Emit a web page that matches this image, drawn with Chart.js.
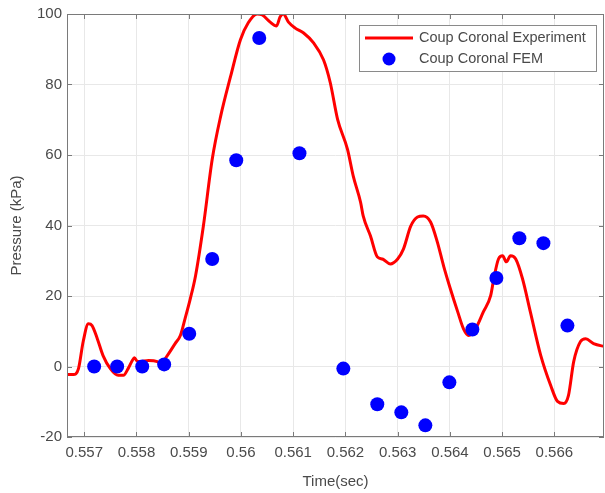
<!DOCTYPE html>
<html>
<head>
<meta charset="utf-8">
<script src="https://cdn.jsdelivr.net/npm/chart.js@4/dist/chart.umd.min.js"></script>
<style>
  html, body { margin: 0; padding: 0; background: #fff; }
  #wrap { width: 605px; height: 493px; }
</style>
</head>
<body>
<div id="wrap"><canvas id="pressureChart" width="605" height="493"></canvas></div>
<script>
// experiment trace (time in sec, pressure in kPa)
const expTime = [0.55667, 0.55679, 0.55689, 0.55698, 0.55708, 0.55715, 0.55725, 0.55736, 0.55750, 0.55765,
    0.55775, 0.55784, 0.55792, 0.55796, 0.55802, 0.55807, 0.55823, 0.55840, 0.55846, 0.55859,
    0.55874, 0.55884, 0.55893, 0.55903, 0.55913, 0.55928, 0.55945, 0.55961, 0.55980, 0.55999,
    0.56014, 0.56031, 0.56041, 0.56056, 0.56068, 0.56075, 0.56081, 0.56091, 0.56104, 0.56120,
    0.56139, 0.56158, 0.56171, 0.56185, 0.56204, 0.56215, 0.56229, 0.56234, 0.56248, 0.56261,
    0.56271, 0.56286, 0.56300, 0.56311, 0.56325, 0.56338, 0.56349, 0.56363, 0.56376, 0.56388,
    0.56401, 0.56415, 0.56426, 0.56436, 0.56449, 0.56464, 0.56478, 0.56484, 0.56493, 0.56501,
    0.56508, 0.56516, 0.56526, 0.56539, 0.56554, 0.56574, 0.56593, 0.56606, 0.56618, 0.56627,
    0.56637, 0.56650, 0.56660, 0.56675, 0.56698];
const expPressure = [-2.3, -2.3, -0.6, 7.1, 12.1, 11.6, 7.9, 3.1, -0.6, -2.5,
    -2.5, -0.6, 1.7, 2.5, 1.4, 1.4, 1.7, 1.4, 0.8, 3.1,
    6.5, 8.8, 13.6, 19.2, 25.7, 39.8, 58.8, 70.9, 82.2, 92.7,
    97.5, 100, 99.7, 97.7, 96.6, 99.2, 100, 97.7, 96.0, 94.6,
    91.8, 87.0, 80.5, 70.1, 61.6, 54.0, 46.6, 42.7, 37.0, 31.1,
    30.5, 29.1, 30.5, 33.3, 39.8, 42.4, 42.7, 41.0, 35.3, 28.5,
    22.0, 15.5, 10.7, 8.8, 10.7, 15.5, 20.1, 24.9, 30.5, 31.4,
    29.7, 31.4, 30.5, 24.9, 15.5, 3.1, -5.4, -9.9, -10.5, -8.2,
    1.4, 7.1, 7.9, 6.5, 5.6];

// FEM samples
const femTime = [0.55719, 0.55763, 0.55811, 0.55853, 0.55901, 0.55945, 0.55991, 0.56035, 0.56112, 0.56196,
    0.56261, 0.56307, 0.56353, 0.56399, 0.56443, 0.56489, 0.56533, 0.56579, 0.56625];
const femPressure = [0, 0, 0, 0.6, 9.3, 30.5, 58.5, 93.2, 60.5, -0.6,
    -10.7, -13.0, -16.7, -4.5, 10.5, 25.1, 36.4, 35.0, 11.6];

const xTicks = [0.557, 0.558, 0.559, 0.56, 0.561, 0.562, 0.563, 0.564, 0.565, 0.566];
const yTicks = [-20, 0, 20, 40, 60, 80, 100];
const seriesNames = ['Coup Coronal Experiment', 'Coup Coronal FEM'];

const textColor = '#4a4a4a';
const fontFamily = '"Liberation Sans", Arial, Helvetica, sans-serif';

const toPoints = (xs, ys) => xs.map((x, i) => ({ x: x, y: ys[i] }));

// box, inward ticks and legend drawn like the matlab figure
const matlabAxes = {
    id: 'matlabAxes',
    afterDraw(chart) {
        const { ctx, chartArea: a, scales } = chart;
        const len = 5;
        ctx.save();
        ctx.strokeStyle = '#7a7a7a';
        ctx.lineWidth = 1;
        ctx.strokeRect(a.left + 0.5, a.top + 0.5, a.right - a.left - 1, a.bottom - a.top - 1);
        ctx.beginPath();
        scales.x.ticks.forEach(t => {
            const px = Math.round(scales.x.getPixelForValue(t.value)) + 0.5;
            ctx.moveTo(px, a.bottom); ctx.lineTo(px, a.bottom - len);
            ctx.moveTo(px, a.top); ctx.lineTo(px, a.top + len);
        });
        scales.y.ticks.forEach(t => {
            const py = Math.round(scales.y.getPixelForValue(t.value)) + 0.5;
            ctx.moveTo(a.left, py); ctx.lineTo(a.left + len, py);
            ctx.moveTo(a.right, py); ctx.lineTo(a.right - len, py);
        });
        ctx.stroke();

        // legend
        const lx = 359, ly = 25, lw = 237, lh = 46;
        ctx.fillStyle = '#fff';
        ctx.fillRect(lx, ly, lw, lh);
        ctx.strokeStyle = '#8a8a8a';
        ctx.strokeRect(lx + 0.5, ly + 0.5, lw, lh);
        const ds = chart.data.datasets;
        ctx.strokeStyle = ds[0].borderColor;
        ctx.lineWidth = 3;
        ctx.beginPath();
        ctx.moveTo(365, 38); ctx.lineTo(413, 38);
        ctx.stroke();
        ctx.fillStyle = ds[1].backgroundColor;
        ctx.beginPath();
        ctx.arc(389, 59, 6.5, 0, Math.PI * 2);
        ctx.fill();
        ctx.fillStyle = textColor;
        ctx.font = '14.5px ' + fontFamily;
        ctx.textBaseline = 'middle';
        ctx.fillText(ds[0].label, 419, 38);
        ctx.fillText(ds[1].label, 419, 59);
        ctx.restore();
    }
};

const chartCtx = document.getElementById('pressureChart').getContext('2d');
new Chart(chartCtx, {
    type: 'scatter',
    data: {
        datasets: [{
            label: seriesNames[0],
            data: toPoints(expTime, expPressure),
            showLine: true,
            borderColor: '#ff0000',
            borderWidth: 3,
            pointRadius: 0,
            cubicInterpolationMode: 'monotone',
            order: 2
        }, {
            label: seriesNames[1],
            data: toPoints(femTime, femPressure),
            backgroundColor: '#0000ff',
            borderColor: '#0000ff',
            pointRadius: 7,
            pointBorderWidth: 0,
            order: 1
        }]
    },
    options: {
        responsive: false,
        animation: false,
        layout: { autoPadding: false, padding: { top: 14, right: 1, left: 0, bottom: 0 } },
        plugins: { legend: { display: false }, tooltip: { enabled: false } },
        scales: {
            x: {
                type: 'linear',
                min: 0.55667,
                max: 0.56695,
                afterBuildTicks: (s) => { s.ticks = xTicks.map(v => ({ value: v })); },
                afterFit: (s) => { s.height = 56; s.paddingLeft = 0; s.paddingRight = 0; },
                grid: { color: '#e8e8e8', drawTicks: false },
                border: { display: false },
                ticks: {
                    color: textColor,
                    font: { family: fontFamily, size: 15 },
                    padding: 7,
                    maxRotation: 0,
                    autoSkip: false,
                    callback: (v) => String(Number(v.toFixed(3)))
                },
                title: {
                    display: true,
                    text: 'Time(sec)',
                    color: textColor,
                    font: { family: fontFamily, size: 15 },
                    padding: { top: 0, bottom: 2 }
                }
            },
            y: {
                min: -20,
                max: 100,
                afterBuildTicks: (s) => { s.ticks = yTicks.map(v => ({ value: v })); },
                afterFit: (s) => { s.width = 67; s.paddingTop = 0; s.paddingBottom = 0; },
                grid: { color: '#e8e8e8', drawTicks: false },
                border: { display: false },
                ticks: {
                    color: textColor,
                    font: { family: fontFamily, size: 15 },
                    padding: 5
                },
                title: {
                    display: true,
                    text: 'Pressure (kPa)',
                    color: textColor,
                    font: { family: fontFamily, size: 15 },
                    padding: { top: 8, bottom: 0 }
                }
            }
        }
    },
    plugins: [matlabAxes]
});
</script>
</body>
</html>
